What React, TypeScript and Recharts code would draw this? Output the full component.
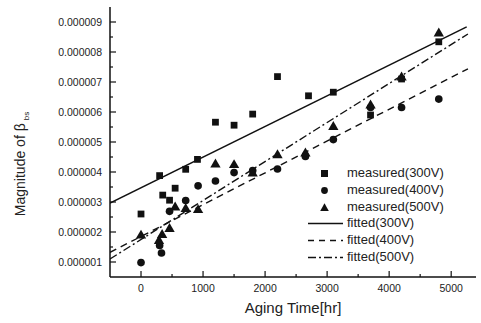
import React from 'react';
import { ComposedChart, Scatter, Line, XAxis, YAxis, ZAxis } from 'recharts';

// measured values (time in hr, magnitude)
const t300 = [0, 300, 350, 460, 550, 720, 910, 1200, 1500, 1800, 2200, 2700, 3100, 3700, 4200, 4800];
const v300 = [2.6e-6, 3.88e-6, 3.23e-6, 3.06e-6, 3.46e-6, 4.09e-6, 4.42e-6, 5.66e-6, 5.56e-6, 5.93e-6, 7.18e-6, 6.54e-6, 6.66e-6, 5.9e-6, 7.1e-6, 8.34e-6];

const t400 = [0, 300, 330, 460, 720, 920, 1200, 1500, 1800, 2200, 2650, 3100, 3700, 4200, 4800];
const v400 = [0.98e-6, 1.55e-6, 1.3e-6, 2.69e-6, 3.05e-6, 3.54e-6, 3.7e-6, 3.98e-6, 4.05e-6, 4.1e-6, 4.52e-6, 5.08e-6, 6.15e-6, 6.15e-6, 6.43e-6];

const t500 = [0, 290, 340, 460, 550, 720, 920, 1200, 1500, 1800, 2200, 2650, 3100, 3700, 4200, 4800];
const v500 = [1.88e-6, 1.7e-6, 1.9e-6, 2.1e-6, 2.82e-6, 2.77e-6, 2.73e-6, 4.25e-6, 4.23e-6, 3.95e-6, 4.56e-6, 4.62e-6, 5.5e-6, 6.22e-6, 7.15e-6, 8.62e-6];

// fitted lines (end points)
const fitT300 = [-500, 5250];
const fitV300 = [2.96e-6, 8.84e-6];
const fitT400 = [-500, 5270];
const fitV400 = [1.32e-6, 7.44e-6];
const fitT500 = [-500, 5270];
const fitV500 = [1.1e-6, 8.6e-6];

const xTicks = [0, 500, 1000, 1500, 2000, 2500, 3000, 3500, 4000, 4500, 5000];
const yTicks = [1e-6, 1.5e-6, 2e-6, 2.5e-6, 3e-6, 3.5e-6, 4e-6, 4.5e-6, 5e-6, 5.5e-6, 6e-6, 6.5e-6, 7e-6, 7.5e-6, 8e-6, 8.5e-6, 9e-6];

const FONT = '"Liberation Sans", Arial, sans-serif';
const INK = '#111';

const toPoints = (xs: number[], ys: number[]) => xs.map((x, i) => ({ x, y: ys[i] }));

const isMajorX = (v: number) => v % 1000 === 0;
const isMajorY = (v: number) => Math.abs(v * 1e6 - Math.round(v * 1e6)) < 1e-6;

const XTickBottom = (props: any) => {
  const { x, y, payload } = props;
  const major = isMajorX(payload.value);
  return (
    <g>
      <line x1={x} x2={x} y1={y} y2={y - (major ? 6 : 3)} stroke={INK} strokeWidth={1.2} />
      {major && (
        <text x={x} y={y + 15} textAnchor="middle" fontSize={10.5} fontFamily={FONT} fill="#222">
          {payload.value}
        </text>
      )}
    </g>
  );
};

const XTickTop = (props: any) => {
  const { x, y, payload } = props;
  const major = isMajorX(payload.value);
  return <line x1={x} x2={x} y1={y} y2={y + (major ? 6 : 3)} stroke={INK} strokeWidth={1.2} />;
};

const YTickLeft = (props: any) => {
  const { x, y, payload } = props;
  const major = isMajorY(payload.value);
  return (
    <g>
      <line x1={x} x2={x + (major ? 6 : 3)} y1={y} y2={y} stroke={INK} strokeWidth={1.2} />
      {major && (
        <text x={x - 8} y={y} dy={3.8} textAnchor="end" fontSize={10.5} fontFamily={FONT} fill="#222">
          {payload.value.toFixed(6)}
        </text>
      )}
    </g>
  );
};

const YTickRight = (props: any) => {
  const { x, y, payload } = props;
  const major = isMajorY(payload.value);
  return <line x1={x} x2={x - (major ? 6 : 3)} y1={y} y2={y} stroke={INK} strokeWidth={1.2} />;
};

const YLabel = (props: any) => {
  const { viewBox } = props;
  const cx = viewBox.x + 9.5;
  const cy = viewBox.y + viewBox.height / 2 + 22;
  return (
    <text
      x={cx}
      y={cy}
      transform={`rotate(-90, ${cx}, ${cy})`}
      textAnchor="middle"
      dy={5}
      fontSize={14}
      fontFamily={FONT}
      fill="#222"
    >
      Magnitude of β
      <tspan fontSize={8} dx={3} dy={4}>bs</tspan>
    </text>
  );
};

const XLabel = (props: any) => {
  const { viewBox } = props;
  return (
    <text
      x={viewBox.x + viewBox.width / 2}
      y={viewBox.y + 36}
      textAnchor="middle"
      fontSize={15}
      fontFamily={FONT}
      fill="#222"
    >
      Aging Time[hr]
    </text>
  );
};

const legendRows = [
  { name: 'measured(300V)', kind: 'square' },
  { name: 'measured(400V)', kind: 'circle' },
  { name: 'measured(500V)', kind: 'triangle' },
  { name: 'fitted(300V)', kind: 'solid' },
  { name: 'fitted(400V)', kind: 'dash' },
  { name: 'fitted(500V)', kind: 'dashdot' },
];

const dashFor: Record<string, string | undefined> = {
  solid: undefined,
  dash: '6 5',
  dashdot: '8 3 2 3',
};

const LegendSample = ({ kind }: { kind: string }) => (
  <svg width={38} height={17} style={{ display: 'block' }}>
    {kind === 'square' && <rect x={14} y={5} width={7} height={7} fill={INK} />}
    {kind === 'circle' && <circle cx={17.5} cy={8.5} r={3.4} fill={INK} />}
    {kind === 'triangle' && <polygon points="17.5,4.3 21.8,12 13.2,12" fill={INK} />}
    {(kind === 'solid' || kind === 'dash' || kind === 'dashdot') && (
      <line x1={1} x2={36} y1={8.5} y2={8.5} stroke={INK} strokeWidth={1.4} strokeDasharray={dashFor[kind]} />
    )}
  </svg>
);

export default function App() {
  return (
    <div style={{ position: 'absolute', left: 0, top: 0, width: 481, height: 323, background: '#fff' }}>
      <ComposedChart width={481} height={323} margin={{ top: 7, right: 5, bottom: 0, left: 10 }}>
        <ZAxis range={[46, 46]} />
        <XAxis
          xAxisId={0}
          type="number"
          dataKey="x"
          domain={[-500, 5400]}
          allowDataOverflow
          ticks={xTicks}
          interval={0}
          height={46}
          tickSize={0}
          tickMargin={0}
          tick={<XTickBottom />}
          tickLine={false}
          axisLine={{ stroke: INK, strokeWidth: 1.5 }}
          label={<XLabel />}
        />
        <XAxis
          xAxisId="top"
          orientation="top"
          type="number"
          dataKey="x"
          domain={[-500, 5400]}
          allowDataOverflow
          ticks={xTicks}
          interval={0}
          height={0}
          tickSize={0}
          tickMargin={0}
          tick={<XTickTop />}
          tickLine={false}
          axisLine={{ stroke: INK, strokeWidth: 1.5 }}
        />
        <YAxis
          yAxisId={0}
          type="number"
          dataKey="y"
          domain={[0.5e-6, 9.5e-6]}
          allowDataOverflow
          ticks={yTicks}
          interval={0}
          width={100}
          tickSize={0}
          tickMargin={0}
          tick={<YTickLeft />}
          tickLine={false}
          axisLine={{ stroke: INK, strokeWidth: 1.5 }}
          label={<YLabel />}
        />
        <YAxis
          yAxisId="right"
          orientation="right"
          type="number"
          dataKey="y"
          domain={[0.5e-6, 9.5e-6]}
          allowDataOverflow
          ticks={yTicks}
          interval={0}
          width={0}
          tickSize={0}
          tickMargin={0}
          tick={<YTickRight />}
          tickLine={false}
          axisLine={{ stroke: INK, strokeWidth: 1.5 }}
        />
        <Line
          data={toPoints(fitT300, fitV300)}
          dataKey="y"
          type="linear"
          stroke={INK}
          strokeWidth={1.5}
          dot={false}
          activeDot={false}
          isAnimationActive={false}
        />
        <Line
          data={toPoints(fitT400, fitV400)}
          dataKey="y"
          type="linear"
          stroke={INK}
          strokeWidth={1.4}
          strokeDasharray="7 5"
          dot={false}
          activeDot={false}
          isAnimationActive={false}
        />
        <Line
          data={toPoints(fitT500, fitV500)}
          dataKey="y"
          type="linear"
          stroke={INK}
          strokeWidth={1.4}
          strokeDasharray="8 3 2 3"
          dot={false}
          activeDot={false}
          isAnimationActive={false}
        />
        <Scatter data={toPoints(t300, v300)} shape="square" fill={INK} isAnimationActive={false} />
        <Scatter data={toPoints(t400, v400)} shape="circle" fill={INK} isAnimationActive={false} />
        <Scatter data={toPoints(t500, v500)} shape="triangle" fill={INK} isAnimationActive={false} />
      </ComposedChart>
      <div
        style={{
          position: 'absolute',
          left: 307,
          top: 165,
          fontFamily: FONT,
          fontSize: 13,
          color: '#222',
        }}
      >
        {legendRows.map((r) => (
          <div key={r.name} style={{ display: 'flex', alignItems: 'center', height: 16.8 }}>
            <LegendSample kind={r.kind} />
            <span style={{ marginLeft: 2, lineHeight: '16.8px', whiteSpace: 'nowrap' }}>{r.name}</span>
          </div>
        ))}
      </div>
    </div>
  );
}
